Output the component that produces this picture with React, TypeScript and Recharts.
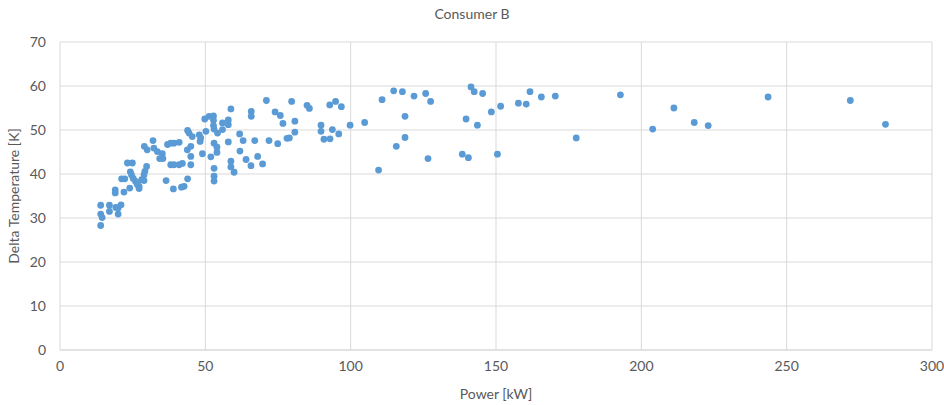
import React from "react";
import {
  ScatterChart,
  Scatter,
  XAxis,
  YAxis,
  CartesianGrid,
  Label,
} from "recharts";

const chartTitle = "Consumer B";
const xTicks = [0, 50, 100, 150, 200, 250, 300];
const yTicks = [0, 10, 20, 30, 40, 50, 60, 70];

// Power [kW]
const powerKw = [
  14, 14, 14, 14.5, 17, 17, 19, 19, 19.2, 20, 20, 21, 21.2, 22, 22.3, 23.2, 24, 24.9, 24.2, 24.6,
  25.2, 26, 26.6, 27.2, 27.2, 28.1, 28.9, 29.2, 29.8, 28.9, 29, 30, 32, 32.3, 33.5, 34.3, 35.4, 35.2,
  36.5, 37, 38.1, 39.2, 41, 38.1, 39.2, 39, 41, 42.1, 41.8, 42.7, 43.9, 43.9, 44.4, 45, 43.8, 45,
  45, 45.5, 47.9, 48.4, 48.2, 49, 50.2, 49.8, 51.3, 51.9, 52.8, 52.8, 52.8, 53, 53, 53, 53, 53, 54,
  54, 54.2, 55.9, 55.9, 57.9, 57.9, 57.9, 58.8, 58.8, 58.8, 59.9, 61.8, 61.9, 63, 64, 65.8, 65.8,
  65.7, 67, 68, 69.7, 71, 71.9, 74, 74.9, 75.8, 76.7, 78.1, 78.9, 79.7, 80.8, 80.8, 85, 85.8, 89.8,
  89.8, 90.8, 92.8, 92.9, 93.7, 94.8, 95.9, 96.8, 99.8, 104.8, 109.6, 110.8, 114.8, 115.7, 117.8,
  118.7, 118.7, 121.8, 125.8, 126.6, 127.5, 138.4, 139.7, 140.5, 141.4, 142.5, 143.6, 145.4, 148.4,
  150.5, 151.6, 157.7, 160.4, 161.7, 165.6, 170.4, 177.6, 192.8, 203.9, 211.2, 218.2, 223, 243.6,
  271.9, 284,
];

// Delta Temperature [K]
const deltaK = [
  28.3, 30.9, 32.9, 30.1, 32.9, 31.5, 36.4, 35.7, 32.4, 32.3, 30.9, 33, 38.9, 35.9, 38.9, 42.5, 36.8, 42.5, 40.5, 39.8,
  39, 38.3, 37.6, 37.2, 36.7, 38.7, 39.8, 40.6, 41.7, 38.5, 46.3, 45.5, 47.6, 45.9, 45.1, 43.5, 43.5, 44.6,
  38.5, 46.7, 47, 47, 47.2, 42.1, 42.1, 36.6, 42.1, 42.4, 37, 37.2, 38.9, 49.9, 49.3, 46.3, 45.5, 44,
  42.1, 48.5, 48.9, 48.2, 47.4, 44.6, 49.7, 52.5, 53.1, 43.9, 53.2, 52.2, 51, 50.2, 47, 41.3, 39.5, 38.4, 46.1,
  44.9, 49.3, 51.6, 50.1, 52.3, 51.2, 47.3, 54.8, 42.9, 41.6, 40.4, 49.1, 45.2, 47.6, 43.3, 54.2, 53.1,
  41.9, 47.6, 44, 42.3, 56.7, 47.6, 54.1, 46.9, 53.3, 51.5, 48.1, 48.2, 56.5, 52, 49.5, 55.6, 54.9, 51.1,
  49.7, 47.9, 55.7, 48, 50.1, 56.5, 49.1, 55.3, 51.1, 51.7, 40.9, 56.9, 58.9, 46.3, 58.7,
  53.1, 48.3, 57.7, 58.3, 43.5, 56.5, 44.5, 52.5, 43.7, 59.8, 58.7, 51.1, 58.3, 54.1,
  44.5, 55.4, 56.1, 55.9, 58.7, 57.5, 57.7, 48.2, 58, 50.2, 55, 51.7, 51, 57.5,
  56.7, 51.3,
];

const points = powerKw.map((p, i) => ({ power: p, delta: deltaK[i] }));

const textColor = "#595959";
const gridColor = "#D9D9D9";
const dotColor = "#5B9BD5";
const fontFamily = "Lato, 'Open Sans', sans-serif";

const Dot = (props: any) => {
  const { cx, cy } = props;
  if (cx == null || cy == null) return null;
  return <circle cx={cx} cy={cy} r={3.4} fill={dotColor} />;
};

export default function App() {
  return (
    <div
      style={{
        position: "absolute",
        left: 0,
        top: 0,
        width: 944,
        height: 405,
        background: "#ffffff",
        fontFamily,
      }}
    >
      <div
        style={{
          position: "absolute",
          left: 0,
          top: 5,
          width: 944,
          textAlign: "center",
          fontSize: 14,
          color: textColor,
          fontFamily,
        }}
      >
        {chartTitle}
      </div>
      <ScatterChart
        width={944}
        height={405}
        margin={{ top: 42, right: 12, bottom: 0, left: 0 }}
      >
        <CartesianGrid stroke={gridColor} strokeWidth={1} />
        <XAxis
          type="number"
          dataKey="power"
          domain={[0, 300]}
          ticks={xTicks}
          interval={0}
          tickLine={false}
          axisLine={{ stroke: gridColor }}
          tickSize={0}
          tickMargin={11}
          tick={{ fill: textColor, fontSize: 14, fontFamily }}
          height={55}
        >
          <Label
            value="Power [kW]"
            position="insideBottom"
            offset={6}
            style={{ fill: textColor, fontSize: 14, fontFamily }}
          />
        </XAxis>
        <YAxis
          type="number"
          dataKey="delta"
          domain={[0, 70]}
          ticks={yTicks}
          interval={0}
          tickLine={false}
          axisLine={false}
          tickSize={0}
          tickMargin={14}
          width={60}
          tick={{ fill: textColor, fontSize: 14, fontFamily }}
        >
          <Label
            value="Delta Temperature [K]"
            angle={-90}
            position="insideLeft"
            offset={14}
            style={{ fill: textColor, fontSize: 14, fontFamily, textAnchor: "middle" }}
          />
        </YAxis>
        <Scatter
          data={points}
          fill={dotColor}
          shape={<Dot />}
          isAnimationActive={false}
        />
      </ScatterChart>
    </div>
  );
}
